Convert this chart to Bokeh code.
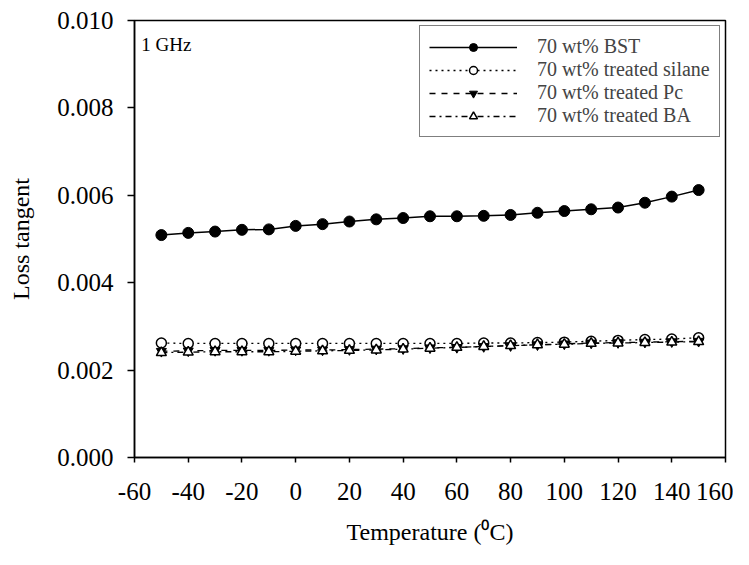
from bokeh.plotting import figure
from bokeh.models import SingleIntervalTicker, NumeralTickFormatter, Label, Range1d
from bokeh.embed import file_html
from bokeh.resources import INLINE

temperature = [-50, -40, -30, -20, -10, 0, 10, 20, 30, 40, 50, 60, 70, 80, 90, 100, 110, 120, 130, 140, 150]
bst = [0.00509, 0.00514, 0.00517, 0.00521, 0.00522, 0.00530, 0.00534, 0.00540, 0.00545, 0.00548, 0.00552,
       0.00552, 0.00553, 0.00555, 0.00560, 0.00564, 0.00568, 0.00572, 0.00583, 0.00597, 0.00612]
silane = [0.00262, 0.00261, 0.00261, 0.00261, 0.00261, 0.00261, 0.00261, 0.00261, 0.00261, 0.00261, 0.00261,
          0.00261, 0.00262, 0.00262, 0.00263, 0.00264, 0.00266, 0.00268, 0.00270, 0.00271, 0.00274]
pc = [0.00243, 0.00244, 0.00245, 0.00245, 0.00245, 0.00246, 0.00246, 0.00247, 0.00248, 0.00249, 0.00251,
      0.00252, 0.00254, 0.00256, 0.00258, 0.00260, 0.00262, 0.00263, 0.00264, 0.00265, 0.00266]
ba = [0.00240, 0.00241, 0.00242, 0.00242, 0.00242, 0.00243, 0.00244, 0.00245, 0.00246, 0.00248, 0.00250,
      0.00252, 0.00254, 0.00256, 0.00258, 0.00259, 0.00261, 0.00262, 0.00263, 0.00264, 0.00265]
labels = ["70 wt% BST", "70 wt% treated silane", "70 wt% treated Pc", "70 wt% treated BA"]

FONT = "Liberation Serif"

p = figure(width=733, height=549, output_backend="svg", toolbar_location=None,
           x_range=Range1d(-60, 160), y_range=Range1d(0, 0.010),
           min_border_left=134, min_border_right=8, min_border_top=20, min_border_bottom=92)
p.grid.visible = False
p.outline_line_color = "black"
p.outline_line_width = 1.5

# series
p.line(temperature, bst, line_color="black", line_width=1.5, legend_label=labels[0])
p.scatter(temperature, bst, marker="circle", size=11, fill_color="black", line_color="black", legend_label=labels[0])

p.line(temperature, silane, line_color="black", line_width=1.3, line_dash="dotted", legend_label=labels[1])
p.scatter(temperature, silane, marker="circle", size=10, fill_color="white", line_color="black", line_width=1.5, legend_label=labels[1])

p.line(temperature, pc, line_color="black", line_width=1.3, line_dash="dashed", legend_label=labels[2])
p.scatter(temperature, pc, marker="inverted_triangle", size=10, fill_color="black", line_color="black", legend_label=labels[2])

p.line(temperature, ba, line_color="black", line_width=1.3, line_dash="dashdot", legend_label=labels[3])
p.scatter(temperature, ba, marker="triangle", size=10, fill_color="white", line_color="black", line_width=1.5, legend_label=labels[3])

# axes
p.xaxis.ticker = SingleIntervalTicker(interval=20)
p.xaxis.formatter = NumeralTickFormatter(format="0")
p.yaxis.ticker = SingleIntervalTicker(interval=0.002)
p.yaxis.formatter = NumeralTickFormatter(format="0.000")
for ax in (p.xaxis, p.yaxis):
    ax.axis_line_color = "black"
    ax.axis_line_width = 1.5
    ax.major_tick_line_color = "black"
    ax.major_tick_line_width = 1.5
    ax.major_tick_in = 0
    ax.minor_tick_line_color = None
    ax.major_label_text_font = FONT
    ax.major_label_text_font_size = "25px"
    ax.major_label_text_color = "black"
    ax.axis_label_text_font = FONT
    ax.axis_label_text_font_size = "24px"
    ax.axis_label_text_font_style = "normal"
    ax.axis_label_text_color = "black"
p.xaxis.major_tick_out = 5
p.yaxis.major_tick_out = 7
p.xaxis.major_label_standoff = 20
p.yaxis.major_label_standoff = 14
p.xaxis.axis_label = "Temperature (\u2070C)"
p.yaxis.axis_label = "Loss tangent"
p.xaxis.axis_label_standoff = 16
p.yaxis.axis_label_standoff = 20

p.add_layout(Label(x=-57.5, y=0.0097, text="1 GHz", text_font=FONT, text_font_size="19px",
                   text_baseline="top", text_color="black"))

lg = p.legend[0]
lg.location = (285, 320)
lg.border_line_color = "black"
lg.border_line_width = 1.5
lg.label_text_font = FONT
lg.label_text_font_size = "20px"
lg.glyph_width = 88
lg.glyph_height = 20
lg.label_standoff = 20
lg.spacing = 0
lg.padding = 9
lg.background_fill_alpha = 1

with open("out.html", "w") as f:
    f.write(file_html(p, INLINE))
